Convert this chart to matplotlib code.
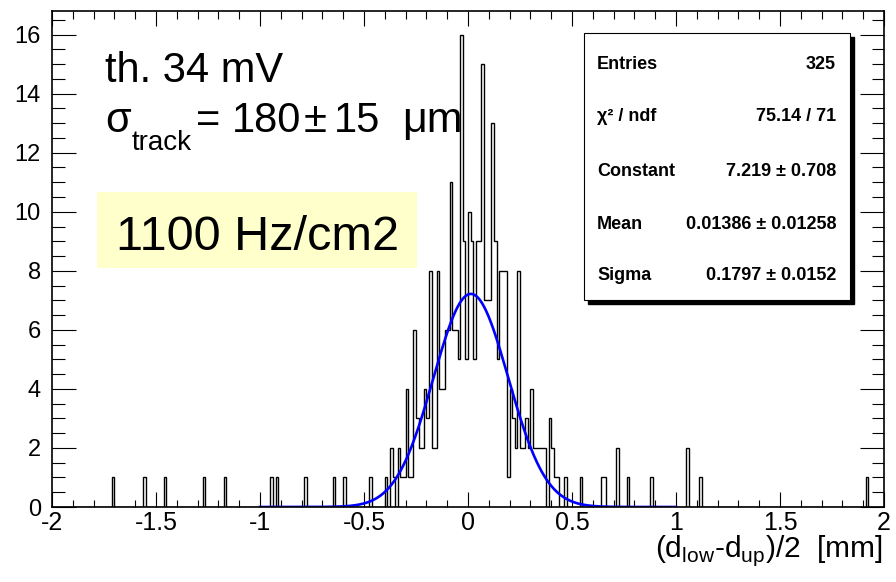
import numpy as np
import matplotlib
matplotlib.use('Agg')
import matplotlib.pyplot as plt
from matplotlib.patches import Rectangle
from matplotlib.ticker import MultipleLocator

plt.rcParams['font.family'] = ['Liberation Sans', 'DejaVu Sans']
plt.rcParams['mathtext.fontset'] = 'custom'
plt.rcParams['mathtext.rm'] = 'Liberation Sans'

# histogram: 320 bins of 0.0125 mm between -2 and 2, only filled bins listed
n_bins = 320
x_min, x_max = -2.0, 2.0
bin_number = [23, 35, 43, 58, 66, 84, 86, 97, 108, 112, 122, 128,
              130, 131, 133, 134, 135, 136, 137, 138, 139, 140, 141, 142,
              143, 144, 145, 146, 147, 148, 149, 150, 151, 152, 153, 154,
              155, 156, 157, 158, 159, 160, 161, 162, 163, 164, 165, 166,
              167, 168, 169, 170, 171, 172, 173, 174, 175,
              176, 177, 178, 179, 180, 181, 182, 183, 184, 185, 186, 187,
              188, 189, 191, 192, 193, 194, 197, 203, 211, 212, 217, 221,
              230, 244, 249, 313]
bin_count = [1, 1, 1, 1, 1, 1, 1, 1, 1, 1, 1, 1,
             2, 1, 2, 1, 1, 4, 1, 1, 6, 3, 2, 2,
             4, 3, 8, 2, 2, 8, 4, 4, 6, 6, 11, 6,
             6, 5, 16, 9, 5, 10, 9, 5, 9, 9, 15, 7,
             7, 7, 13, 9, 5, 8, 8, 8, 1,
             4, 3, 2, 8, 2, 2, 3, 2, 4, 2, 2, 2,
             2, 2, 3, 2, 1, 1, 1, 1, 1, 1, 2, 1,
             1, 2, 1, 1]

# gaussian fit result (from the stats box)
fit_const = 7.219
fit_mean = 0.01386
fit_sigma = 0.1797
fit_lo, fit_hi = -1.0, 1.0

stat_names = ['Entries', 'χ² / ndf', 'Constant', 'Mean', 'Sigma']
stat_values = ['325', '75.14 / 71', '7.219 ± 0.708', '0.01386 ± 0.01258', '0.1797 ± 0.0152']

xtick_vals = [-2, -1.5, -1, -0.5, 0, 0.5, 1, 1.5, 2]
xtick_labels = ['-2', '-1.5', '-1', '-0.5', '0', '0.5', '1', '1.5', '2']
ytick_vals = [0, 2, 4, 6, 8, 10, 12, 14, 16]

W, H = 896, 582


def fx(px):
    return px / W


def fy(py):
    return 1 - py / H


fig = plt.figure(figsize=(8.96, 5.82), dpi=100)
ax = fig.add_axes([fx(52), fy(507), (884 - 52) / W, (507 - 11) / H])

edges = np.linspace(x_min, x_max, n_bins + 1)
counts = np.zeros(n_bins)
counts[bin_number] = bin_count
ax.stairs(counts, edges, color='black', lw=1.0)

xf = np.linspace(fit_lo, fit_hi, 500)
yf = fit_const * np.exp(-0.5 * ((xf - fit_mean) / fit_sigma) ** 2)
ax.plot(xf, yf, color='#0000ff', lw=1.9)

ax.set_xlim(x_min, x_max)
ax.set_ylim(0, 16.8)
ax.set_xticks(xtick_vals)
ax.set_xticklabels(xtick_labels)
ax.set_yticks(ytick_vals)
ax.set_yticklabels([str(v) for v in ytick_vals])
ax.xaxis.set_minor_locator(MultipleLocator(0.1))
ax.yaxis.set_minor_locator(MultipleLocator(0.5))
ax.tick_params(which='both', direction='in', top=True, right=True, width=0.8)
ax.tick_params(axis='x', which='major', length=10.8, labelsize=18, pad=3)
ax.tick_params(axis='x', which='minor', length=5.4)
ax.tick_params(axis='y', which='major', length=17, labelsize=17, pad=8)
ax.tick_params(axis='y', which='minor', length=9)
for s in ax.spines.values():
    s.set_linewidth(1.2)

# x axis title
fig.text(fx(883), fy(557), r'(d$_{\mathregular{low}}$-d$_{\mathregular{up}}$)/2  [mm]',
         ha='right', va='baseline', fontsize=21.5)

# annotations
fig.text(fx(105), fy(82), 'th. 34 mV', fontsize=30, va='baseline')
fig.text(fx(105), fy(132), 'σ', fontsize=30, va='baseline')
fig.text(fx(132), fy(150), 'track', fontsize=20, va='baseline')
fig.text(fx(196), fy(132), '=', fontsize=30, va='baseline')
fig.text(fx(232), fy(132), '180', fontsize=30, va='baseline')
fig.text(fx(304), fy(132), '±', fontsize=30, va='baseline')
fig.text(fx(334), fy(132), '15', fontsize=30, va='baseline')
fig.text(fx(402), fy(132), 'μm', fontsize=31, va='baseline')

fig.add_artist(Rectangle((fx(97), fy(268)), (417 - 97) / W, (268 - 192) / H,
                         transform=fig.transFigure, facecolor='#ffffcc',
                         edgecolor='none', zorder=2))
fig.text(fx(258), fy(250), '1100 Hz/cm2', fontsize=35, ha='center',
         va='baseline', zorder=3)

# stats box with shadow
fig.add_artist(Rectangle((fx(588), fy(304)), (854 - 588) / W, (304 - 37) / H,
                         transform=fig.transFigure, facecolor='black',
                         edgecolor='black', zorder=2))
fig.add_artist(Rectangle((fx(584), fy(300)), (850 - 584) / W, (300 - 33) / H,
                         transform=fig.transFigure, facecolor='white',
                         edgecolor='black', lw=0.8, zorder=2))
row_base = [69, 121, 176, 229, 280]
for name, val, yb in zip(stat_names, stat_values, row_base):
    fig.text(fx(597), fy(yb), name, fontsize=13, fontweight='bold',
             va='baseline', zorder=3)
    fig.text(fx(836), fy(yb), val, fontsize=13, fontweight='bold',
             ha='right', va='baseline', zorder=3)

fig.savefig('out.png', dpi=100)
